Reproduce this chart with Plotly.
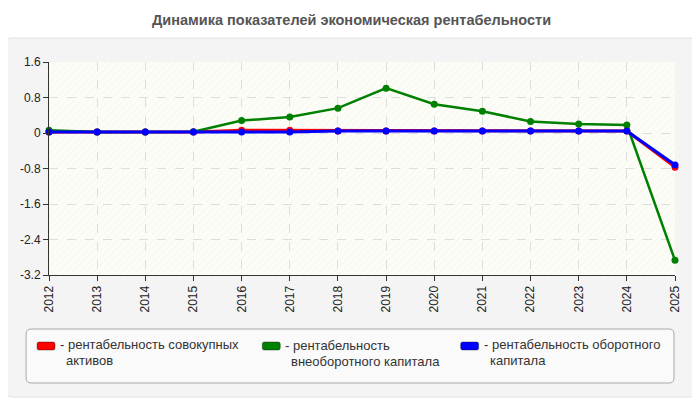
import plotly.graph_objects as go

# data
years = [2012, 2013, 2014, 2015, 2016, 2017, 2018, 2019, 2020, 2021, 2022, 2023, 2024, 2025]
total_assets = [0.02, 0.02, 0.02, 0.02, 0.06, 0.06, 0.045, 0.045, 0.045, 0.045, 0.045, 0.045, 0.045, -0.77]
fixed_capital = [0.06, 0.02, 0.02, 0.03, 0.28, 0.36, 0.56, 1.01, 0.65, 0.49, 0.26, 0.20, 0.18, -2.87]
working_capital = [0.02, 0.02, 0.02, 0.02, 0.02, 0.02, 0.045, 0.045, 0.045, 0.045, 0.045, 0.045, 0.045, -0.72]

series_names = ["рентабельность совокупных активов",
                "рентабельность внеоборотного капитала",
                "рентабельность оборотного капитала"]
series_colors = ["#ff0000", "#008000", "#0000ff"]
legend_lines = [["- рентабельность совокупных", "активов"],
                ["- рентабельность", "внеоборотного капитала"],
                ["- рентабельность оборотного", "капитала"]]

y_ticks = [1.6, 0.8, 0, -0.8, -1.6, -2.4, -3.2]
y_tick_text = ["1.6", "0.8", "0", "-0.8", "-1.6", "-2.4", "-3.2"]

title = "Динамика показателей экономическая рентабельности"

# page has an 8px body margin, so the figure is shrunk and shifted by it
OFF = 8
W, H = 700 - OFF, 400 - OFF
L, R, T, B = 47 - OFF, 25, 62 - OFF, 125
PW, PH = W - L - R, H - T - B


def px(x):
    return (x - OFF - L) / PW


def py(y):
    return (H - B - (y - OFF)) / PH


def rounded(x0, y0, x1, y1, r):
    # rounded rectangle path in paper coords, given reference pixel corners
    a, b, c, d = px(x0), py(y0), px(x1), py(y1)
    rx, ry = r / PW, r / PH
    return (f"M{a + rx},{b} L{c - rx},{b} Q{c},{b} {c},{b - ry} "
            f"L{c},{d + ry} Q{c},{d} {c - rx},{d} L{a + rx},{d} "
            f"Q{a},{d} {a},{d + ry} L{a},{b - ry} Q{a},{b} {a + rx},{b} Z")


fig = go.Figure()

# hatched plot background
fig.add_trace(go.Scatter(
    x=[years[0], years[-1], years[-1], years[0], years[0]],
    y=[y_ticks[0], y_ticks[0], y_ticks[-1], y_ticks[-1], y_ticks[0]],
    fill="toself", mode="none", hoverinfo="skip", showlegend=False,
    fillcolor="rgba(0,0,0,0)",
    fillpattern=dict(shape="/", fgcolor="#e6e6df", bgcolor="rgba(0,0,0,0)",
                     size=5, solidity=0.15),
))

widths = [3, 2.5, 3]
for vals, name, col, w in zip([total_assets, fixed_capital, working_capital],
                              series_names, series_colors, widths):
    fig.add_trace(go.Scatter(
        x=years, y=vals, name=name, mode="lines+markers",
        line=dict(color=col, width=w),
        marker=dict(color=col, size=7),
        cliponaxis=False, showlegend=False,
    ))

shapes = [
    dict(type="path", path=rounded(2, 38, 698, 397, 8), xref="paper", yref="paper",
         fillcolor="#f4f4f4", line=dict(color="#e2e2e2", width=1), layer="below"),
    dict(type="rect", x0=0, x1=1, y0=0, y1=1, xref="paper", yref="paper",
         fillcolor="#fdfdf7", line=dict(width=0), layer="below"),
    dict(type="path", path=rounded(24, 329, 674, 383, 5), xref="paper", yref="paper",
         fillcolor="#fafafa", line=dict(color="#a8a8a8", width=1), layer="below"),
]

annotations = [dict(text=f"<b>{title}</b>", x=px(350), y=py(20), xref="paper", yref="paper",
                    showarrow=False, xanchor="center", yanchor="middle",
                    font=dict(family="Liberation Sans, Arial", size=14.5, color="#555555"))]

swatch_x = [35, 261, 460]
text_x = [57, 283, 482]
line_y = [[344, 360], [345, 361], [344, 360]]
for sx, tx, ys, col, lines in zip(swatch_x, text_x, line_y, series_colors, legend_lines):
    shapes.append(dict(type="path", path=rounded(sx, 342, sx + 18, 350, 2),
                       xref="paper", yref="paper", fillcolor=col,
                       line=dict(color="rgba(0,0,0,0.35)", width=1)))
    for txt, ty in zip(lines, ys):
        annotations.append(dict(text=txt, x=px(tx if txt.startswith("-") else tx + 6),
                                y=py(ty), xref="paper", yref="paper", showarrow=False,
                                xanchor="left", yanchor="middle", borderpad=0,
                                font=dict(family="Liberation Sans, Arial", size=13,
                                          color="#333333")))

fig.update_layout(
    width=W, height=H,
    margin=dict(l=L, r=R, t=T, b=B),
    paper_bgcolor="white",
    plot_bgcolor="rgba(0,0,0,0)",
    shapes=shapes,
    annotations=annotations,
    showlegend=False,
    font=dict(family="Liberation Sans, Arial", size=12, color="#222222"),
)

fig.update_xaxes(
    range=[years[0], years[-1]], tickvals=years, tickangle=-90,
    showgrid=True, gridcolor="#dddddd", griddash="dash", gridwidth=1,
    showline=True, linecolor="#333333", linewidth=1,
    ticks="outside", ticklen=5, tickcolor="#333333",
    zeroline=False, tickfont=dict(size=12, color="#222222"),
)
fig.update_yaxes(
    range=[y_ticks[-1], y_ticks[0]], tickvals=y_ticks, ticktext=y_tick_text,
    showgrid=True, gridcolor="#dddddd", griddash="dash", gridwidth=1,
    showline=True, linecolor="#333333", linewidth=1,
    ticks="outside", ticklen=5, tickcolor="#333333",
    zeroline=False, tickfont=dict(size=12, color="#222222"),
)

fig.write_html("out.html")
